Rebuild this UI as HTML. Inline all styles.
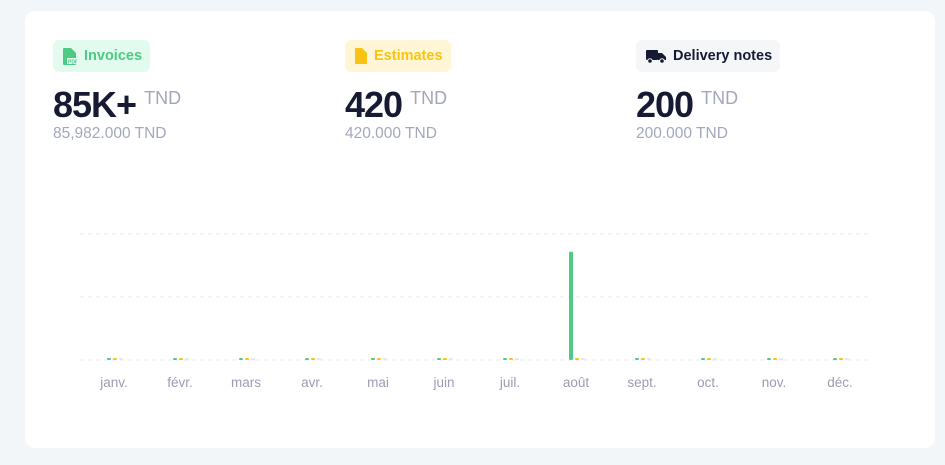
<!DOCTYPE html>
<html><head><meta charset="utf-8"><style>
body{margin:0;width:945px;height:465px;background:#f3f6f9;font-family:"Liberation Sans",sans-serif;overflow:hidden;position:relative}
.card{position:absolute;left:25px;top:11px;width:910px;height:437px;background:#fff;border-radius:10px}
.stat{position:absolute;top:29px}
.badge{display:inline-flex;align-items:center;gap:7px;height:32px;padding:0 8px 0 10px;border-radius:6px;font-size:14.5px;font-weight:bold}
.big{margin-top:15px;font-size:36px;font-weight:bold;color:#161a33;letter-spacing:-1px;line-height:36px}
.big span{font-size:18px;font-weight:normal;color:#a3a7bb;vertical-align:top;margin-left:8px;letter-spacing:0;line-height:22px}
.sub{font-size:15.5px;color:#a3a7bb;margin-top:2px}
</style></head><body>
<div class="card">
 <div class="stat" style="left:28px">
  <div class="badge" style="background:#e3fbee;color:#4dca84">
   <svg width="14" height="17" viewBox="0 0 14 17"><path d="M0 1Q0 0 1 0H8L13 5V16Q13 17 12 17H1Q0 17 0 16Z" fill="#4dca84"/><rect x="4" y="10" width="10" height="6" fill="#e3fbee"/><text x="5" y="15.5" font-size="5" fill="#4dca84" font-family="Liberation Sans">PDF</text></svg>Invoices</div>
  <div class="big">85K+<span>TND</span></div>
  <div class="sub">85,982.000 TND</div>
 </div>
 <div class="stat" style="left:320px">
  <div class="badge" style="background:#fff6d6;color:#f9c311">
   <svg width="12" height="16" viewBox="0 0 12 16"><path d="M0 1Q0 0 1 0H7L12 5V15Q12 16 11 16H1Q0 16 0 15Z" fill="#f9c311"/></svg>Estimates</div>
  <div class="big">420<span>TND</span></div>
  <div class="sub">420.000 TND</div>
 </div>
 <div class="stat" style="left:611px">
  <div class="badge" style="background:#f5f6f8;color:#161a33">
   <svg width="20" height="15" viewBox="0 0 20 15"><rect x="0" y="1" width="12" height="10" rx="1" fill="#161a33"/><path d="M12 4H16L20 8V11H12Z" fill="#161a33"/><circle cx="4" cy="12" r="2.3" fill="#161a33" stroke="#f5f6f8"/><circle cx="16" cy="12" r="2.3" fill="#161a33" stroke="#f5f6f8"/></svg>Delivery notes</div>
  <div class="big">200<span>TND</span></div>
  <div class="sub">200.000 TND</div>
 </div>
</div>
<svg id="chart" width="945" height="465" style="position:absolute;left:0;top:0"></svg>
<script>
const months=["janv.","févr.","mars","avr.","mai","juin","juil.","août","sept.","oct.","nov.","déc."];
const invoices=[0,0,0,0,0,0,0,85982,0,0,0,0];
const estimates=[0,0,0,0,0,0,0,420,0,0,0,0];
const deliveries=[0,0,0,0,0,0,0,200,0,0,0,0];
const ticks=[0,50000,100000];
const svg=document.getElementById('chart');
const NS="http://www.w3.org/2000/svg";
const x0=80,x1=872,yBase=360,yTop=234,yMax=100000;
const bw=(x1-x0)/months.length;
const y=v=>yBase-(v/yMax)*(yBase-yTop);
const xc=i=>x0+bw*(i+0.5)+1;
ticks.forEach(t=>{const l=document.createElementNS(NS,'line');
l.setAttribute('x1',x0);l.setAttribute('x2',x1);l.setAttribute('y1',y(t));l.setAttribute('y2',y(t));
l.setAttribute('stroke','#e6e8ee');l.setAttribute('stroke-dasharray','4 4');


svg.appendChild(l);});
const series=[[invoices,'#4dca84','invoice-bar'],[estimates,'#f9c311','estimate-bar'],[deliveries,'#e3e5ec','delivery-bar']];
months.forEach((m,i)=>{
 series.forEach((s,k)=>{const v=s[0][i];const top=Math.min(y(v),yBase-2);
  const r=document.createElementNS(NS,'rect');
  r.setAttribute('x',xc(i)-7+k*6);r.setAttribute('width',4);r.setAttribute('y',top);r.setAttribute('height',yBase-top);
  r.setAttribute('rx',1.5);r.setAttribute('fill',s[1]);
  
  
  svg.appendChild(r);});
 const t=document.createElementNS(NS,'text');
 t.setAttribute('x',xc(i));t.setAttribute('y',387);t.setAttribute('text-anchor','middle');
 t.setAttribute('font-size','13.5');t.setAttribute('fill','#9a9db2');t.setAttribute('font-family','Liberation Sans, sans-serif');
 t.textContent=m;
 
 
 svg.appendChild(t);
});
</script>
</body></html>
